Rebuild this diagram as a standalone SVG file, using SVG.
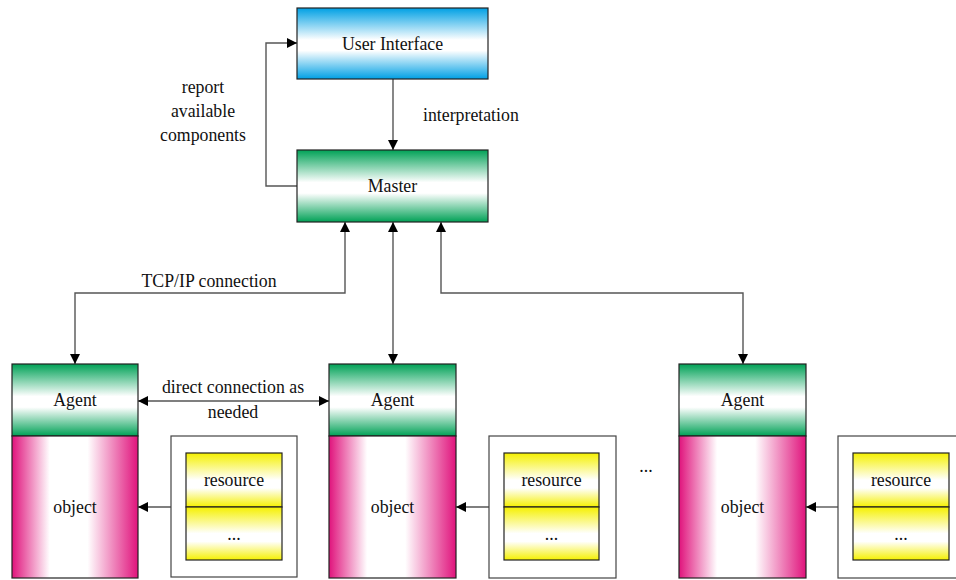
<svg xmlns="http://www.w3.org/2000/svg" width="956" height="580" viewBox="0 0 956 580">
  <defs>
    <linearGradient id="gBlue" x1="0" y1="0" x2="0" y2="1">
      <stop offset="0" stop-color="#00a0e4"/>
      <stop offset="0.45" stop-color="#ffffff"/>
      <stop offset="0.6" stop-color="#ffffff"/>
      <stop offset="1" stop-color="#00a0e4"/>
    </linearGradient>
    <linearGradient id="gGreen" x1="0" y1="0" x2="0" y2="1">
      <stop offset="0" stop-color="#00a156"/>
      <stop offset="0.45" stop-color="#ffffff"/>
      <stop offset="0.6" stop-color="#ffffff"/>
      <stop offset="1" stop-color="#00a156"/>
    </linearGradient>
    <linearGradient id="gMagenta" x1="0" y1="0" x2="1" y2="0">
      <stop offset="0" stop-color="#e0137c"/>
      <stop offset="0.3" stop-color="#ffffff"/>
      <stop offset="0.6" stop-color="#ffffff"/>
      <stop offset="1" stop-color="#e0137c"/>
    </linearGradient>
    <linearGradient id="gYellow" x1="0" y1="0" x2="0" y2="1">
      <stop offset="0" stop-color="#f5f000"/>
      <stop offset="0.5" stop-color="#ffffff"/>
      <stop offset="0.65" stop-color="#ffffff"/>
      <stop offset="1" stop-color="#f5f000"/>
    </linearGradient>
    <marker id="arr" viewBox="0 0 10 10" refX="10" refY="5" markerWidth="10" markerHeight="10" markerUnits="userSpaceOnUse" orient="auto-start-reverse">
      <path d="M0,0 L10,5 L0,10 z" fill="#000"/>
    </marker>
  </defs>
  <style>
    .box { stroke: #222; stroke-width: 1.2; }
    .plain { fill: #fff; stroke: #444; stroke-width: 1.2; }
    text { font-family: "Liberation Serif", "Times New Roman", "DejaVu Serif", serif; font-size: 17.8px; fill: #111; }
    .mid { text-anchor: middle; }
    .conn { fill: none; stroke: #555; stroke-width: 1.4; }
  </style>

  <!-- connectors -->
  <g id="connectors">
    <line class="conn" x1="393" y1="79" x2="393" y2="150" marker-end="url(#arr)"/>
    <polyline class="conn" points="297,186 266,186 266,43 297,43" marker-end="url(#arr)"/>
    <polyline class="conn" points="345,222 345,293 75,293 75,364" marker-start="url(#arr)" marker-end="url(#arr)"/>
    <line class="conn" x1="393" y1="222" x2="393" y2="364" marker-start="url(#arr)" marker-end="url(#arr)"/>
    <polyline class="conn" points="441,222 441,293 743,293 743,364" marker-start="url(#arr)" marker-end="url(#arr)"/>
    <line class="conn" x1="138" y1="401" x2="329" y2="401" marker-start="url(#arr)" marker-end="url(#arr)"/>
    <line class="conn" x1="171" y1="507" x2="138" y2="507" marker-end="url(#arr)"/>
    <line class="conn" x1="489" y1="507" x2="456" y2="507" marker-end="url(#arr)"/>
    <line class="conn" x1="838" y1="507" x2="806" y2="507" marker-end="url(#arr)"/>
    <text x="423" y="121">interpretation</text>
    <text class="mid" x="203" y="93">report</text>
    <text class="mid" x="203" y="117">available</text>
    <text class="mid" x="203" y="141">components</text>
    <text class="mid" x="209" y="287">TCP/IP connection</text>
    <text class="mid" x="233" y="393">direct connection as</text>
    <text class="mid" x="233" y="418">needed</text>
  </g>

  <g id="user-interface">
    <rect class="box" x="297" y="8" width="191" height="71" fill="url(#gBlue)"/>
    <text class="mid" x="392.5" y="50">User Interface</text>
  </g>

  <g id="master">
    <rect class="box" x="297" y="150" width="191" height="72" fill="url(#gGreen)"/>
    <text class="mid" x="392.5" y="192">Master</text>
  </g>

  <!-- agent 1 -->
  <g id="agent-1">
    <rect class="box" x="12" y="364" width="126" height="72" fill="url(#gGreen)"/>
    <text class="mid" x="75" y="406">Agent</text>
  </g>
  <g id="object-1">
    <rect class="box" x="12" y="436" width="126" height="142" fill="url(#gMagenta)"/>
    <text class="mid" x="75" y="513">object</text>
  </g>
  <g id="resources-1">
    <rect class="plain" x="171" y="436" width="126" height="141"/>
    <rect class="box" x="186" y="453" width="96" height="54" fill="url(#gYellow)"/>
    <rect class="box" x="186" y="507" width="96" height="53" fill="url(#gYellow)"/>
    <text class="mid" x="234" y="486">resource</text>
    <text class="mid" x="234" y="540">...</text>
  </g>

  <!-- agent 2 -->
  <g id="agent-2">
    <rect class="box" x="329" y="364" width="127" height="72" fill="url(#gGreen)"/>
    <text class="mid" x="392.5" y="406">Agent</text>
  </g>
  <g id="object-2">
    <rect class="box" x="329" y="436" width="127" height="142" fill="url(#gMagenta)"/>
    <text class="mid" x="392.5" y="513">object</text>
  </g>
  <g id="resources-2">
    <rect class="plain" x="489" y="436" width="127" height="142"/>
    <rect class="box" x="504" y="453" width="95" height="54" fill="url(#gYellow)"/>
    <rect class="box" x="504" y="507" width="95" height="53" fill="url(#gYellow)"/>
    <text class="mid" x="551.5" y="486">resource</text>
    <text class="mid" x="551.5" y="540">...</text>
  </g>

  <text id="ellipsis" class="mid" x="646" y="472">...</text>

  <!-- agent 3 -->
  <g id="agent-3">
    <rect class="box" x="679" y="364" width="127" height="72" fill="url(#gGreen)"/>
    <text class="mid" x="742.5" y="406">Agent</text>
  </g>
  <g id="object-3">
    <rect class="box" x="679" y="436" width="127" height="142" fill="url(#gMagenta)"/>
    <text class="mid" x="742.5" y="513">object</text>
  </g>
  <g id="resources-3">
    <rect class="plain" x="838" y="436" width="127" height="142"/>
    <rect class="box" x="853" y="453" width="96" height="54" fill="url(#gYellow)"/>
    <rect class="box" x="853" y="507" width="96" height="53" fill="url(#gYellow)"/>
    <text class="mid" x="901" y="486">resource</text>
    <text class="mid" x="901" y="540">...</text>
  </g>
</svg>
